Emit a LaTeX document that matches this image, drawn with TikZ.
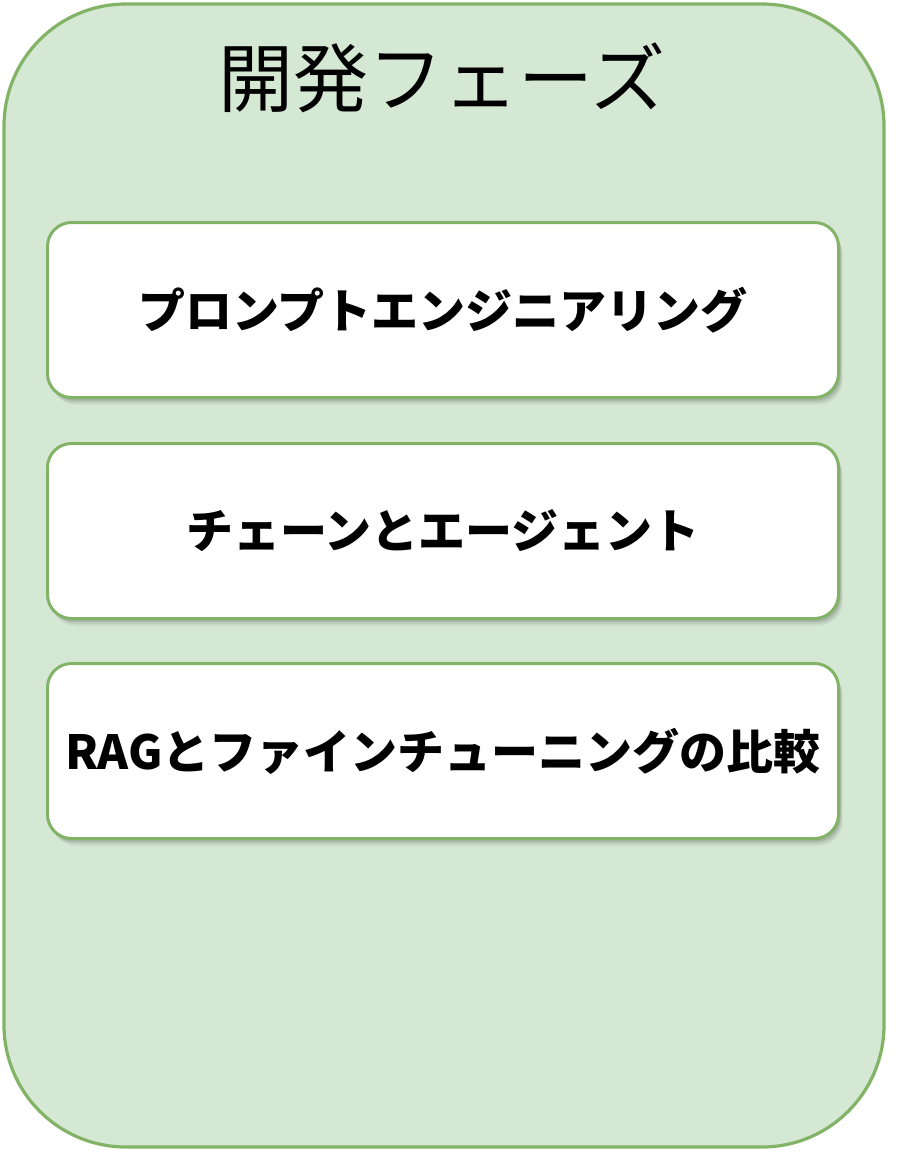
\documentclass[tikz,border=0pt]{standalone}
\usepackage{fontspec}
\newfontfamily\jp{Noto Sans CJK JP}
\usetikzlibrary{shadows}
\definecolor{phasefill}{HTML}{D5E8D4}
\definecolor{phasedraw}{HTML}{82B366}
\tikzset{
  outerbox/.style={draw=phasedraw, fill=phasefill, line width=3.2pt, rounded corners=122pt,
    minimum width=880pt, minimum height=1143pt, inner sep=0pt},
  titletext/.style={font=\jp\fontsize{75pt}{82pt}\selectfont, text=black, inner sep=0pt},
  itembox/.style={draw=phasedraw, fill=white, line width=3pt, rounded corners=24pt,
    minimum width=791pt, minimum height=175pt, inner sep=0pt,
    drop shadow={shadow xshift=2pt, shadow yshift=-3pt, opacity=0.10, fill=black},
    drop shadow={shadow xshift=3pt, shadow yshift=-5pt, opacity=0.08, fill=black},
    drop shadow={shadow xshift=4pt, shadow yshift=-7pt, opacity=0.06, fill=black},
    font=\jp\bfseries\fontsize{47pt}{54pt}\selectfont, text=black}
}
\begin{document}
\begin{tikzpicture}[x=1pt,y=-1pt]
\useasboundingbox (0,0) rectangle (922,1152);
\node[outerbox] (phase) at (444,575.5) {};
\node[titletext] (title) at (442,78) {開発フェーズ};
\node[itembox] (b1) at (443,310) {プロンプトエンジニアリング};
\node[itembox] (b2) at (443,531) {チェーンとエージェント};
\node[itembox] (b3) at (443,751) {RAGとファインチューニングの比較};
\end{tikzpicture}
\end{document}
